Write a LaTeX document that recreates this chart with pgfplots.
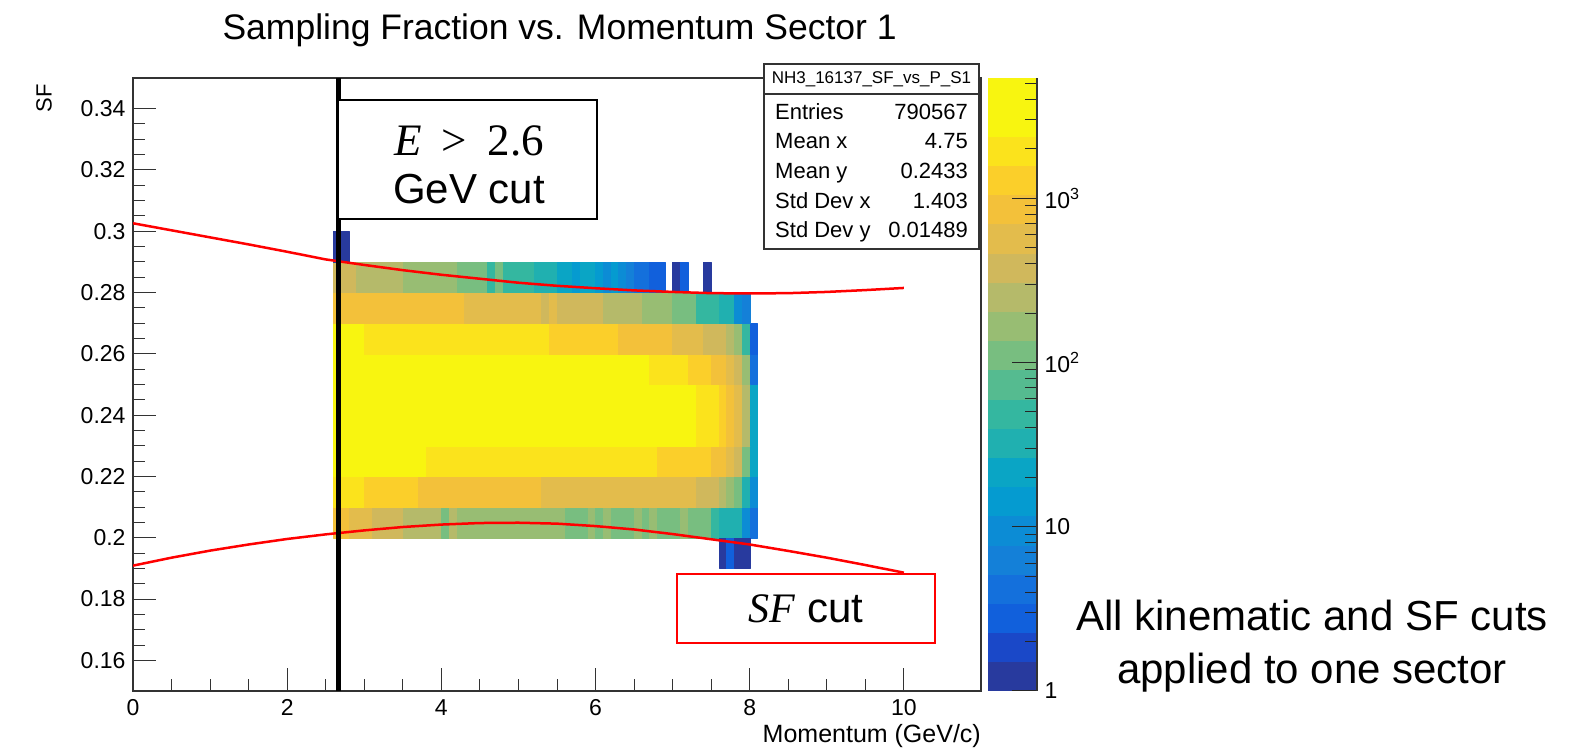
\documentclass[border=0pt]{standalone}
\usepackage{fontspec}
\setmainfont{Liberation Sans}
\newfontfamily\serif{Liberation Serif}
\usepackage{pgfplots}
\pgfplotsset{compat=1.18}
\begin{document}
\begin{tikzpicture}[x=1bp,y=1bp]
\path[use as bounding box] (0,0) rectangle (1574,748);
\begin{axis}[
  at={(133bp,57bp)}, anchor=south west,
  scale only axis, width=848bp, height=613bp,
  xmin=0, xmax=11, ymin=0.15, ymax=0.35,
  xtick={0,2,4,6,8,10},
  ytick={0.16,0.18,0.2,0.22,0.24,0.26,0.28,0.3,0.32,0.34},
  yticklabels={0.16,0.18,0.2,0.22,0.24,0.26,0.28,0.3,0.32,0.34},
  minor x tick num=3, minor y tick num=3,
  tick pos=left, tick align=inside,
  major tick length=23bp, minor tick length=11.5bp,
  axis line style={line width=1.2bp, black!80},
  every tick/.style={line width=1bp, black!80},
  /pgf/number format/assume math mode=true,
  ticklabel style={font=\fontsize{23bp}{27bp}\selectfont},
  yticklabel style={xshift=-4bp},
  xticklabel style={yshift=-5bp},
  colormap={bird}{rgb255=(40,58,158) rgb255=(26,72,200) rgb255=(17,96,220) rgb255=(20,112,220) rgb255=(20,128,216) rgb255=(12,140,213) rgb255=(5,155,208) rgb255=(10,165,197) rgb255=(32,176,176) rgb255=(52,183,160) rgb255=(85,187,144) rgb255=(120,190,128) rgb255=(152,189,115) rgb255=(181,186,106) rgb255=(208,184,92) rgb255=(227,188,76) rgb255=(243,193,58) rgb255=(251,207,42) rgb255=(251,227,28) rgb255=(248,245,16) rgb255=(248,245,16)},
  colormap access=piecewise constant,
  point meta min=0, point meta max=3.732,
  colorbar,
  colorbar style={
    at={(parent axis.north east)}, anchor=north west, xshift=-1.5bp,
    scale only axis, width=49bp, height=613bp,
    axis x line=none, axis y line*=right,
    ytick={0,1,2,3},
    yticklabels={1,10,10\textsuperscript{2},10\textsuperscript{3}},
    minor ytick={0.30103,0.47712,0.60206,0.69897,0.77815,0.84510,0.90309,0.95424,1.30103,1.47712,1.60206,1.69897,1.77815,1.84510,1.90309,1.95424,2.30103,2.47712,2.60206,2.69897,2.77815,2.84510,2.90309,2.95424,3.30103,3.47712,3.60206,3.69897},
    tick align=inside,
    major tick length=25bp, minor tick length=12bp,
    every tick/.style={line width=1bp, black!85},
    axis line style={line width=1.2bp, black!80},
    yticklabel style={font=\fontsize{23bp}{27bp}\selectfont, xshift=4bp},
  },
]
\addplot[patch, patch type=rectangle, shader=flat, point meta={\thisrow{c}*0.18661+0.0933}]
table[row sep=\\] {
x y c\\
2.6 .20 15\\ 2.8 .20 15\\ 2.8 .21 15\\ 2.6 .21 15\\
2.8 .20 14\\ 3.1 .20 14\\ 3.1 .21 14\\ 2.8 .21 14\\
3.1 .20 13\\ 3.5 .20 13\\ 3.5 .21 13\\ 3.1 .21 13\\
3.5 .20 12\\ 4.0 .20 12\\ 4.0 .21 12\\ 3.5 .21 12\\
4.0 .20 10\\ 4.1 .20 10\\ 4.1 .21 10\\ 4.0 .21 10\\
4.1 .20 12\\ 4.2 .20 12\\ 4.2 .21 12\\ 4.1 .21 12\\
4.2 .20 11\\ 5.6 .20 11\\ 5.6 .21 11\\ 4.2 .21 11\\
5.6 .20 10\\ 5.9 .20 10\\ 5.9 .21 10\\ 5.6 .21 10\\
5.9 .20 11\\ 6.0 .20 11\\ 6.0 .21 11\\ 5.9 .21 11\\
6.0 .20 10\\ 6.1 .20 10\\ 6.1 .21 10\\ 6.0 .21 10\\
6.1 .20 11\\ 6.2 .20 11\\ 6.2 .21 11\\ 6.1 .21 11\\
6.2 .20 10\\ 6.5 .20 10\\ 6.5 .21 10\\ 6.2 .21 10\\
6.5 .20 11\\ 6.6 .20 11\\ 6.6 .21 11\\ 6.5 .21 11\\
6.6 .20 10\\ 6.7 .20 10\\ 6.7 .21 10\\ 6.6 .21 10\\
6.7 .20 11\\ 6.8 .20 11\\ 6.8 .21 11\\ 6.7 .21 11\\
6.8 .20 10\\ 7.1 .20 10\\ 7.1 .21 10\\ 6.8 .21 10\\
7.1 .20 11\\ 7.2 .20 11\\ 7.2 .21 11\\ 7.1 .21 11\\
7.2 .20 10\\ 7.5 .20 10\\ 7.5 .21 10\\ 7.2 .21 10\\
7.5 .20 9\\ 7.6 .20 9\\ 7.6 .21 9\\ 7.5 .21 9\\
7.6 .20 8\\ 7.9 .20 8\\ 7.9 .21 8\\ 7.6 .21 8\\
7.9 .20 5\\ 8.0 .20 5\\ 8.0 .21 5\\ 7.9 .21 5\\
8.0 .20 3\\ 8.1 .20 3\\ 8.1 .21 3\\ 8.0 .21 3\\
2.6 .21 17\\ 3.0 .21 17\\ 3.0 .22 17\\ 2.6 .22 17\\
3.0 .21 16\\ 3.7 .21 16\\ 3.7 .22 16\\ 3.0 .22 16\\
3.7 .21 15\\ 5.3 .21 15\\ 5.3 .22 15\\ 3.7 .22 15\\
5.3 .21 14\\ 7.3 .21 14\\ 7.3 .22 14\\ 5.3 .22 14\\
7.3 .21 13\\ 7.6 .21 13\\ 7.6 .22 13\\ 7.3 .22 13\\
7.6 .21 12\\ 7.7 .21 12\\ 7.7 .22 12\\ 7.6 .22 12\\
7.7 .21 11\\ 7.8 .21 11\\ 7.8 .22 11\\ 7.7 .22 11\\
7.8 .21 10\\ 7.9 .21 10\\ 7.9 .22 10\\ 7.8 .22 10\\
7.9 .21 8\\ 8.0 .21 8\\ 8.0 .22 8\\ 7.9 .22 8\\
8.0 .21 5\\ 8.1 .21 5\\ 8.1 .22 5\\ 8.0 .22 5\\
2.6 .22 18\\ 3.8 .22 18\\ 3.8 .23 18\\ 2.6 .23 18\\
3.8 .22 17\\ 6.8 .22 17\\ 6.8 .23 17\\ 3.8 .23 17\\
6.8 .22 16\\ 7.5 .22 16\\ 7.5 .23 16\\ 6.8 .23 16\\
7.5 .22 15\\ 7.7 .22 15\\ 7.7 .23 15\\ 7.5 .23 15\\
7.7 .22 14\\ 7.8 .22 14\\ 7.8 .23 14\\ 7.7 .23 14\\
7.8 .22 13\\ 7.9 .22 13\\ 7.9 .23 13\\ 7.8 .23 13\\
7.9 .22 10\\ 8.0 .22 10\\ 8.0 .23 10\\ 7.9 .23 10\\
8.0 .22 7\\ 8.1 .22 7\\ 8.1 .23 7\\ 8.0 .23 7\\
2.6 .23 19\\ 5.9 .23 19\\ 5.9 .24 19\\ 2.6 .24 19\\
5.9 .23 18\\ 7.3 .23 18\\ 7.3 .24 18\\ 5.9 .24 18\\
7.3 .23 17\\ 7.6 .23 17\\ 7.6 .24 17\\ 7.3 .24 17\\
7.6 .23 16\\ 7.7 .23 16\\ 7.7 .24 16\\ 7.6 .24 16\\
7.7 .23 15\\ 7.8 .23 15\\ 7.8 .24 15\\ 7.7 .24 15\\
7.8 .23 14\\ 7.9 .23 14\\ 7.9 .24 14\\ 7.8 .24 14\\
7.9 .23 12\\ 8.0 .23 12\\ 8.0 .24 12\\ 7.9 .24 12\\
8.0 .23 7\\ 8.1 .23 7\\ 8.1 .24 7\\ 8.0 .24 7\\
2.6 .24 19\\ 6.7 .24 19\\ 6.7 .25 19\\ 2.6 .25 19\\
6.7 .24 18\\ 7.3 .24 18\\ 7.3 .25 18\\ 6.7 .25 18\\
7.3 .24 17\\ 7.6 .24 17\\ 7.6 .25 17\\ 7.3 .25 17\\
7.6 .24 16\\ 7.7 .24 16\\ 7.7 .25 16\\ 7.6 .25 16\\
7.7 .24 15\\ 7.8 .24 15\\ 7.8 .25 15\\ 7.7 .25 15\\
7.8 .24 14\\ 7.9 .24 14\\ 7.9 .25 14\\ 7.8 .25 14\\
7.9 .24 12\\ 8.0 .24 12\\ 8.0 .25 12\\ 7.9 .25 12\\
8.0 .24 7\\ 8.1 .24 7\\ 8.1 .25 7\\ 8.0 .25 7\\
2.6 .25 19\\ 5.2 .25 19\\ 5.2 .26 19\\ 2.6 .26 19\\
5.2 .25 18\\ 6.7 .25 18\\ 6.7 .26 18\\ 5.2 .26 18\\
6.7 .25 17\\ 7.2 .25 17\\ 7.2 .26 17\\ 6.7 .26 17\\
7.2 .25 16\\ 7.5 .25 16\\ 7.5 .26 16\\ 7.2 .26 16\\
7.5 .25 15\\ 7.7 .25 15\\ 7.7 .26 15\\ 7.5 .26 15\\
7.7 .25 14\\ 7.8 .25 14\\ 7.8 .26 14\\ 7.7 .26 14\\
7.8 .25 13\\ 7.9 .25 13\\ 7.9 .26 13\\ 7.8 .26 13\\
7.9 .25 11\\ 8.0 .25 11\\ 8.0 .26 11\\ 7.9 .26 11\\
8.0 .25 3\\ 8.1 .25 3\\ 8.1 .26 3\\ 8.0 .26 3\\
2.6 .26 18\\ 3.0 .26 18\\ 3.0 .27 18\\ 2.6 .27 18\\
3.0 .26 17\\ 5.4 .26 17\\ 5.4 .27 17\\ 3.0 .27 17\\
5.4 .26 16\\ 6.3 .26 16\\ 6.3 .27 16\\ 5.4 .27 16\\
6.3 .26 15\\ 7.0 .26 15\\ 7.0 .27 15\\ 6.3 .27 15\\
7.0 .26 14\\ 7.4 .26 14\\ 7.4 .27 14\\ 7.0 .27 14\\
7.4 .26 13\\ 7.7 .26 13\\ 7.7 .27 13\\ 7.4 .27 13\\
7.7 .26 12\\ 7.8 .26 12\\ 7.8 .27 12\\ 7.7 .27 12\\
7.8 .26 11\\ 7.9 .26 11\\ 7.9 .27 11\\ 7.8 .27 11\\
7.9 .26 9\\ 8.0 .26 9\\ 8.0 .27 9\\ 7.9 .27 9\\
8.0 .26 2\\ 8.1 .26 2\\ 8.1 .27 2\\ 8.0 .27 2\\
2.6 .27 15\\ 4.3 .27 15\\ 4.3 .28 15\\ 2.6 .28 15\\
4.3 .27 14\\ 5.3 .27 14\\ 5.3 .28 14\\ 4.3 .28 14\\
5.3 .27 13\\ 5.4 .27 13\\ 5.4 .28 13\\ 5.3 .28 13\\
5.4 .27 14\\ 5.5 .27 14\\ 5.5 .28 14\\ 5.4 .28 14\\
5.5 .27 13\\ 6.1 .27 13\\ 6.1 .28 13\\ 5.5 .28 13\\
6.1 .27 12\\ 6.6 .27 12\\ 6.6 .28 12\\ 6.1 .28 12\\
6.6 .27 11\\ 7.0 .27 11\\ 7.0 .28 11\\ 6.6 .28 11\\
7.0 .27 10\\ 7.3 .27 10\\ 7.3 .28 10\\ 7.0 .28 10\\
7.3 .27 9\\ 7.6 .27 9\\ 7.6 .28 9\\ 7.3 .28 9\\
7.6 .27 8\\ 7.8 .27 8\\ 7.8 .28 8\\ 7.6 .28 8\\
7.8 .27 5\\ 7.9 .27 5\\ 7.9 .28 5\\ 7.8 .28 5\\
7.9 .27 4\\ 8.0 .27 4\\ 8.0 .28 4\\ 7.9 .28 4\\
2.6 .28 13\\ 2.9 .28 13\\ 2.9 .29 13\\ 2.6 .29 13\\
2.9 .28 12\\ 3.5 .28 12\\ 3.5 .29 12\\ 2.9 .29 12\\
3.5 .28 11\\ 4.2 .28 11\\ 4.2 .29 11\\ 3.5 .29 11\\
4.2 .28 10\\ 4.6 .28 10\\ 4.6 .29 10\\ 4.2 .29 10\\
4.6 .28 9\\ 4.7 .28 9\\ 4.7 .29 9\\ 4.6 .29 9\\
4.7 .28 10\\ 4.8 .28 10\\ 4.8 .29 10\\ 4.7 .29 10\\
4.8 .28 9\\ 5.2 .28 9\\ 5.2 .29 9\\ 4.8 .29 9\\
5.2 .28 8\\ 5.5 .28 8\\ 5.5 .29 8\\ 5.2 .29 8\\
5.5 .28 7\\ 5.7 .28 7\\ 5.7 .29 7\\ 5.5 .29 7\\
5.7 .28 6\\ 5.8 .28 6\\ 5.8 .29 6\\ 5.7 .29 6\\
5.8 .28 7\\ 6.0 .28 7\\ 6.0 .29 7\\ 5.8 .29 7\\
6.0 .28 6\\ 6.1 .28 6\\ 6.1 .29 6\\ 6.0 .29 6\\
6.1 .28 5\\ 6.2 .28 5\\ 6.2 .29 5\\ 6.1 .29 5\\
6.2 .28 6\\ 6.3 .28 6\\ 6.3 .29 6\\ 6.2 .29 6\\
6.3 .28 5\\ 6.4 .28 5\\ 6.4 .29 5\\ 6.3 .29 5\\
6.4 .28 4\\ 6.5 .28 4\\ 6.5 .29 4\\ 6.4 .29 4\\
6.5 .28 3\\ 6.7 .28 3\\ 6.7 .29 3\\ 6.5 .29 3\\
6.7 .28 2\\ 6.9 .28 2\\ 6.9 .29 2\\ 6.7 .29 2\\
7.0 .28 0\\ 7.1 .28 0\\ 7.1 .29 0\\ 7.0 .29 0\\
7.1 .28 2\\ 7.2 .28 2\\ 7.2 .29 2\\ 7.1 .29 2\\
7.4 .28 0\\ 7.5 .28 0\\ 7.5 .29 0\\ 7.4 .29 0\\
2.6 .29 0\\ 2.8 .29 0\\ 2.8 .30 0\\ 2.6 .30 0\\
7.6 .19 0\\ 7.7 .19 0\\ 7.7 .20 0\\ 7.6 .20 0\\
7.7 .19 2\\ 7.8 .19 2\\ 7.8 .20 2\\ 7.7 .20 2\\
7.8 .19 0\\ 8.0 .19 0\\ 8.0 .20 0\\ 7.8 .20 0\\
};
% SF cut curves
\addplot[red, line width=2.5bp, no marks] coordinates {
(0,0.3026) (0.5,0.3003) (1,0.2980) (1.5,0.2957) (2,0.2933) (2.5,0.2908) (3,0.2890) (3.5,0.2873) (4,0.2858) (4.5,0.2845) (5,0.2832) (5.5,0.2822) (6,0.2814) (6.5,0.2807) (7,0.2802) (7.5,0.2798) (8,0.2797) (8.5,0.2798) (9,0.2802) (9.5,0.2808) (10,0.2815)};
\addplot[red, line width=2.5bp, no marks] coordinates {
(0,0.1909) (0.5,0.1935) (1,0.1958) (1.5,0.1978) (2,0.1996) (2.5,0.2011) (3,0.2024) (3.5,0.2035) (4,0.2043) (4.5,0.2048) (5,0.2049) (5.5,0.2046) (6,0.2038) (6.5,0.2027) (7,0.2012) (7.5,0.1995) (8,0.1978) (8.5,0.1957) (9,0.1935) (9.5,0.1911) (10,0.1886)};
% E > 2.6 cut line
\addplot[black, line width=5bp, no marks] coordinates {(2.66,0.15) (2.66,0.35)};
\end{axis}
% title and axis titles
\node[font=\fontsize{35.5bp}{40bp}\selectfont] at (559.6,718) {Sampling Fraction vs. Momentum Sector 1};
\node[font=\fontsize{22bp}{26bp}\selectfont, rotate=90, anchor=center] at (44,650) {SF};
\node[font=\fontsize{25bp}{28bp}\selectfont, anchor=east, inner sep=0] at (981,12) {Momentum (GeV/c)};
% E box
\draw[black, line width=1.2bp, fill=white] (338,529) rectangle (597,648);
\node[font=\fontsize{45bp}{50bp}\selectfont\serif] at (469,607) {\itshape E\hspace{0.45em}\upshape >\hspace{0.45em}2.6};
\node[font=\fontsize{42bp}{48bp}\selectfont] at (469,559) {GeV cut};
% SF box
\draw[red, line width=1.5bp, fill=white] (677,105) rectangle (935,174);
\node[font=\fontsize{42bp}{48bp}\selectfont] at (806,139) {{\serif\itshape SF} cut};
% stats box
\draw[black!80, line width=1.2bp, fill=white] (764,499) rectangle (979,684);
\draw[black!80, line width=1.2bp] (764,654) -- (979,654);
\node[font=\fontsize{17bp}{20bp}\selectfont, inner sep=0] at (871.5,669) {NH3\_16137\_SF\_vs\_P\_S1};
\begin{scope}[every node/.style={font=\fontsize{22bp}{24bp}\selectfont, inner sep=0}]
\node[anchor=base west] at (775,628.7) {Entries};
\node[anchor=base east] at (968,628.7) {790567};
\node[anchor=base west] at (775,599) {Mean x};
\node[anchor=base east] at (968,599) {4.75};
\node[anchor=base west] at (775,569.3) {Mean y};
\node[anchor=base east] at (968,569.3) {0.2433};
\node[anchor=base west] at (775,539.6) {Std Dev x};
\node[anchor=base east] at (968,539.6) {1.403};
\node[anchor=base west] at (775,510) {Std Dev y};
\node[anchor=base east] at (968,510) {0.01489};
\end{scope}
% side text
\node[font=\fontsize{42bp}{53bp}\selectfont, align=center] at (1312,102) {All kinematic and SF cuts\\applied to one sector};
\end{tikzpicture}
\end{document}
